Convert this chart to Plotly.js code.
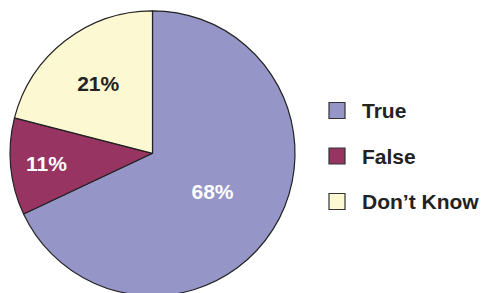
<!DOCTYPE html>
<html>
<head>
<meta charset="utf-8">
<script src="https://cdn.plot.ly/plotly-3.0.1.min.js"></script>
<style>
html,body{margin:0;padding:0;overflow:hidden;background:#fff;}
#chart{width:482px;height:300px;}
</style>
</head>
<body>
<div id="chart"></div>
<script>
const labels = ["True", "False", "Don\u2019t Know"];
const values = [68, 11, 21];
const colors = ["#9595c8", "#983462", "#fcf8d2"];
const textColors = ["#ffffff", "#ffffff", "#222222"];

const W = 482, H = 300;
const cx = 152.5, cy = 153.3, R = 142.5;

const trace = {
  type: "pie",
  labels: labels,
  values: values,
  sort: false,
  direction: "clockwise",
  rotation: 0,
  marker: {colors: colors, line: {color: "#222222", width: 1.2}},
  texttemplate: "<b>%{value}%</b>",
  textposition: "inside",
  insidetextorientation: "horizontal",
  textfont: {family: "Liberation Sans, Arial, sans-serif", size: 21, color: textColors},
  hoverinfo: "none",
  showlegend: false,
  domain: {x: [(cx - R) / W, (cx + R) / W], y: [(H - cy - R) / H, (H - cy + R) / H]}
};

// legend drawn as shapes + annotations
const legX = 337, legY0 = 110.5, legStep = 45.5, sq = 16;
const shapes = [], annotations = [];
labels.forEach((lab, i) => {
  const y = legY0 + i * legStep;
  shapes.push({
    type: "rect", xref: "paper", yref: "paper",
    x0: (legX - sq / 2) / W, x1: (legX + sq / 2) / W,
    y0: (H - y - sq / 2) / H, y1: (H - y + sq / 2) / H,
    fillcolor: colors[i], line: {color: "#333333", width: 1.2}
  });
  annotations.push({
    xref: "paper", yref: "paper",
    x: 360 / W, y: (H - y) / H, xanchor: "left", yanchor: "middle",
    text: "<b>" + lab + "</b>", showarrow: false,
    font: {family: "Liberation Sans, Arial, sans-serif", size: 21, color: "#222222"}
  });
});

Plotly.newPlot("chart", [trace], {
  width: W, height: H,
  margin: {l: 0, r: 0, t: 0, b: 0},
  paper_bgcolor: "#ffffff",
  showlegend: false,
  uniformtext: {minsize: 21, mode: "show"},
  shapes: shapes,
  annotations: annotations
}, {staticPlot: true});
</script>
</body>
</html>
